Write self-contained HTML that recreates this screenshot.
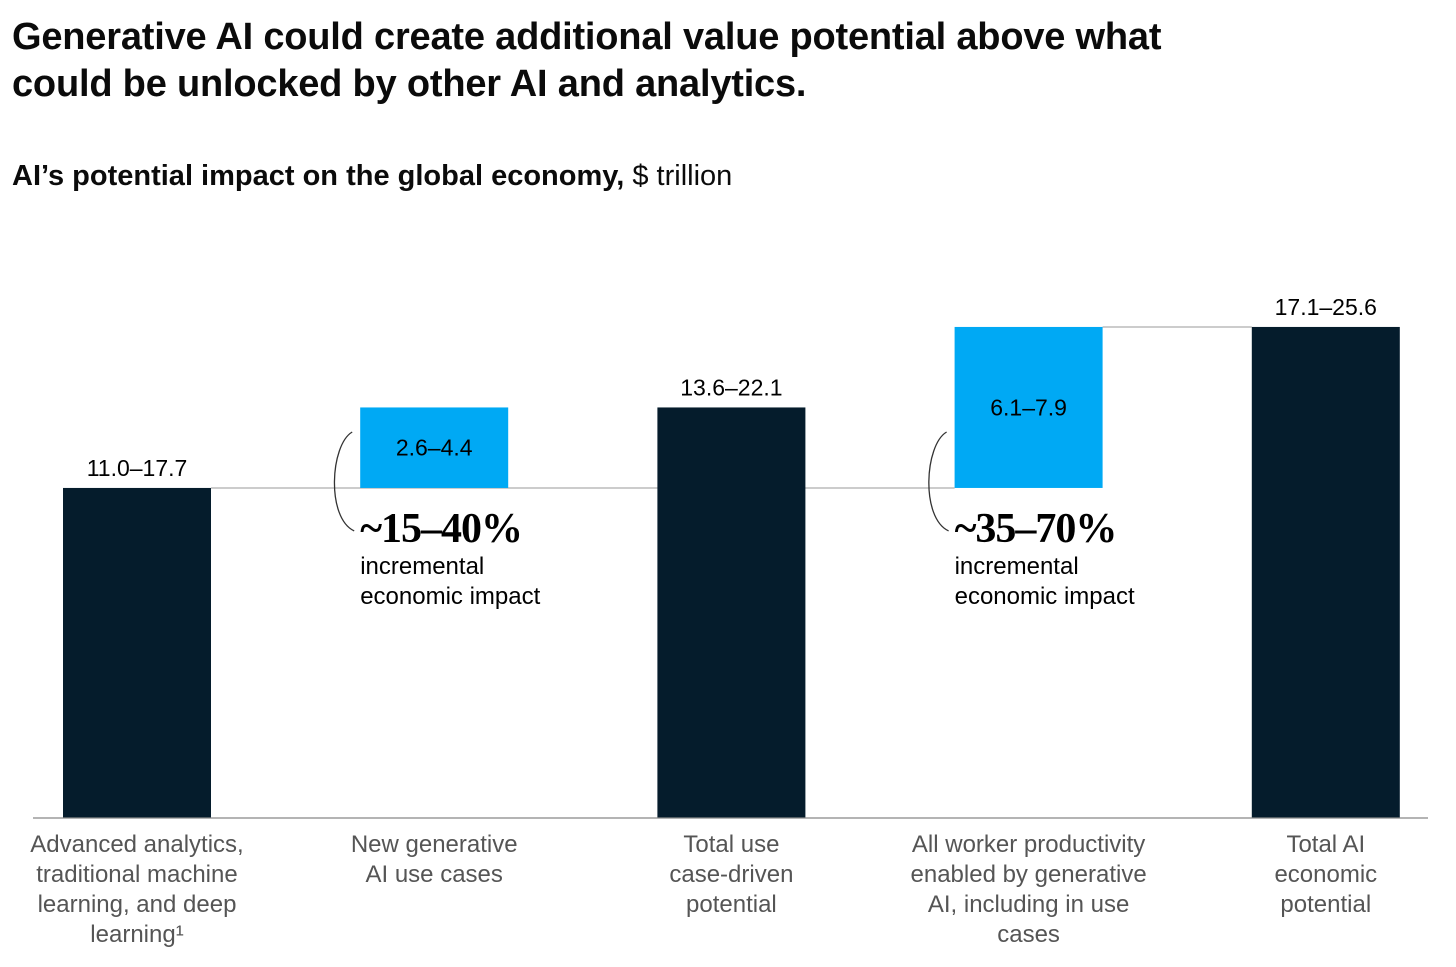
<!DOCTYPE html>
<html><head><meta charset="utf-8">
<style>
body{margin:0;background:#fff;width:1456px;height:967px;overflow:hidden;font-family:"Liberation Sans",sans-serif;color:#0b0b0b}
h1{position:absolute;left:12px;top:14px;margin:0;font-size:38px;line-height:47px;font-weight:bold;letter-spacing:-0.2px}
.sub{position:absolute;left:12px;top:160px;font-size:29px;}
svg{position:absolute;left:0;top:0}
</style></head><body>
<h1>Generative AI could create additional value potential above what<br>could be unlocked by other AI and analytics.</h1>
<div class="sub"><b>AI’s potential impact on the global economy,</b> $ trillion</div>
<svg id="chart" width="1456" height="967"></svg>
<script>
const categories=[["Advanced analytics,","traditional machine","learning, and deep","learning¹"],["New generative","AI use cases"],["Total use","case-driven","potential"],["All worker productivity","enabled by generative","AI, including in use","cases"],["Total AI","economic","potential"]];
const valueLabels=["11.0–17.7","2.6–4.4","13.6–22.1","6.1–7.9","17.1–25.6"];
const lows=[11.0,2.6,13.6,6.1,17.1];
const highs=[17.7,4.4,22.1,7.9,25.6];
const isTotal=[true,false,true,false,true];
const pctLabels=["","~15–40%","","~35–70%",""];
const NS="http://www.w3.org/2000/svg";
const svg=document.getElementById('chart');
const baseY=818, pxPerUnit=23.0;
const y=v=>baseY-v*pxPerUnit;
const xLeft=i=>63+i*297.2, bw=148;
function mk(t,a){const e=document.createElementNS(NS,t);for(const k in a)e.setAttribute(k,a[k]);svg.appendChild(e);return e;}
const mids=lows.map((l,i)=>(l+highs[i])/2);
let tops=[],bottoms=[];
mids.forEach((m,i)=>{
  let b0,b1;
  if(isTotal[i]){b0=0;b1=m;}else{b0=mids[0];b1=mids[0]+m;}
  bottoms.push(b0);tops.push(b1);
});
const c1=mk('line',{x1:xLeft(0)+bw,x2:xLeft(3),y1:y(tops[0]),y2:y(tops[0]),stroke:'#999','stroke-width':1});

const c2=mk('line',{x1:xLeft(3)+bw,x2:xLeft(4),y1:y(tops[4]),y2:y(tops[4]),stroke:'#999','stroke-width':1});

mids.forEach((m,i)=>{
  const x=xLeft(i);
  const r=mk('rect',{x:x,y:y(tops[i]),width:bw,height:y(bottoms[i])-y(tops[i]),fill:isTotal[i]?'#051c2c':'#00a9f4'});
  
  let t;
  if(isTotal[i]){
    t=mk('text',{x:x+bw/2,y:y(tops[i])-12,'text-anchor':'middle','font-size':23,fill:'#000'});
  }else{
    t=mk('text',{x:x+bw/2,y:(y(tops[i])+y(bottoms[i]))/2+8,'text-anchor':'middle','font-size':23,fill:'#000'});
  }
  t.textContent=valueLabels[i];
  
  categories[i].forEach((ln,j)=>{
    const c=mk('text',{x:x+bw/2,y:852+j*30,'text-anchor':'middle','font-size':24,fill:'#555'});
    c.textContent=ln;
    
  });
  if(pctLabels[i]){
    const yb=y(bottoms[i]);
    const br=mk('path',{d:`M${x-8} 432 C${x-30} 445 ${x-34} ${yb+30} ${x-6} ${yb+43}`,fill:'none',stroke:'#333','stroke-width':1.3});
    
    const p=mk('text',{x:x,y:yb+54,'font-size':42,'font-weight':'bold','font-family':'Liberation Serif, serif',fill:'#000','letter-spacing':'-1'});
    p.textContent=pctLabels[i];
    
    ['incremental','economic impact'].forEach((s,j)=>{
      const q=mk('text',{x:x,y:yb+86+j*30,'font-size':24,fill:'#000'});
      q.textContent=s;
      
    });
  }
});
const ax=mk('line',{x1:33,x2:1428,y1:baseY,y2:baseY,stroke:'#888','stroke-width':1.2});

</script>
</body></html>
